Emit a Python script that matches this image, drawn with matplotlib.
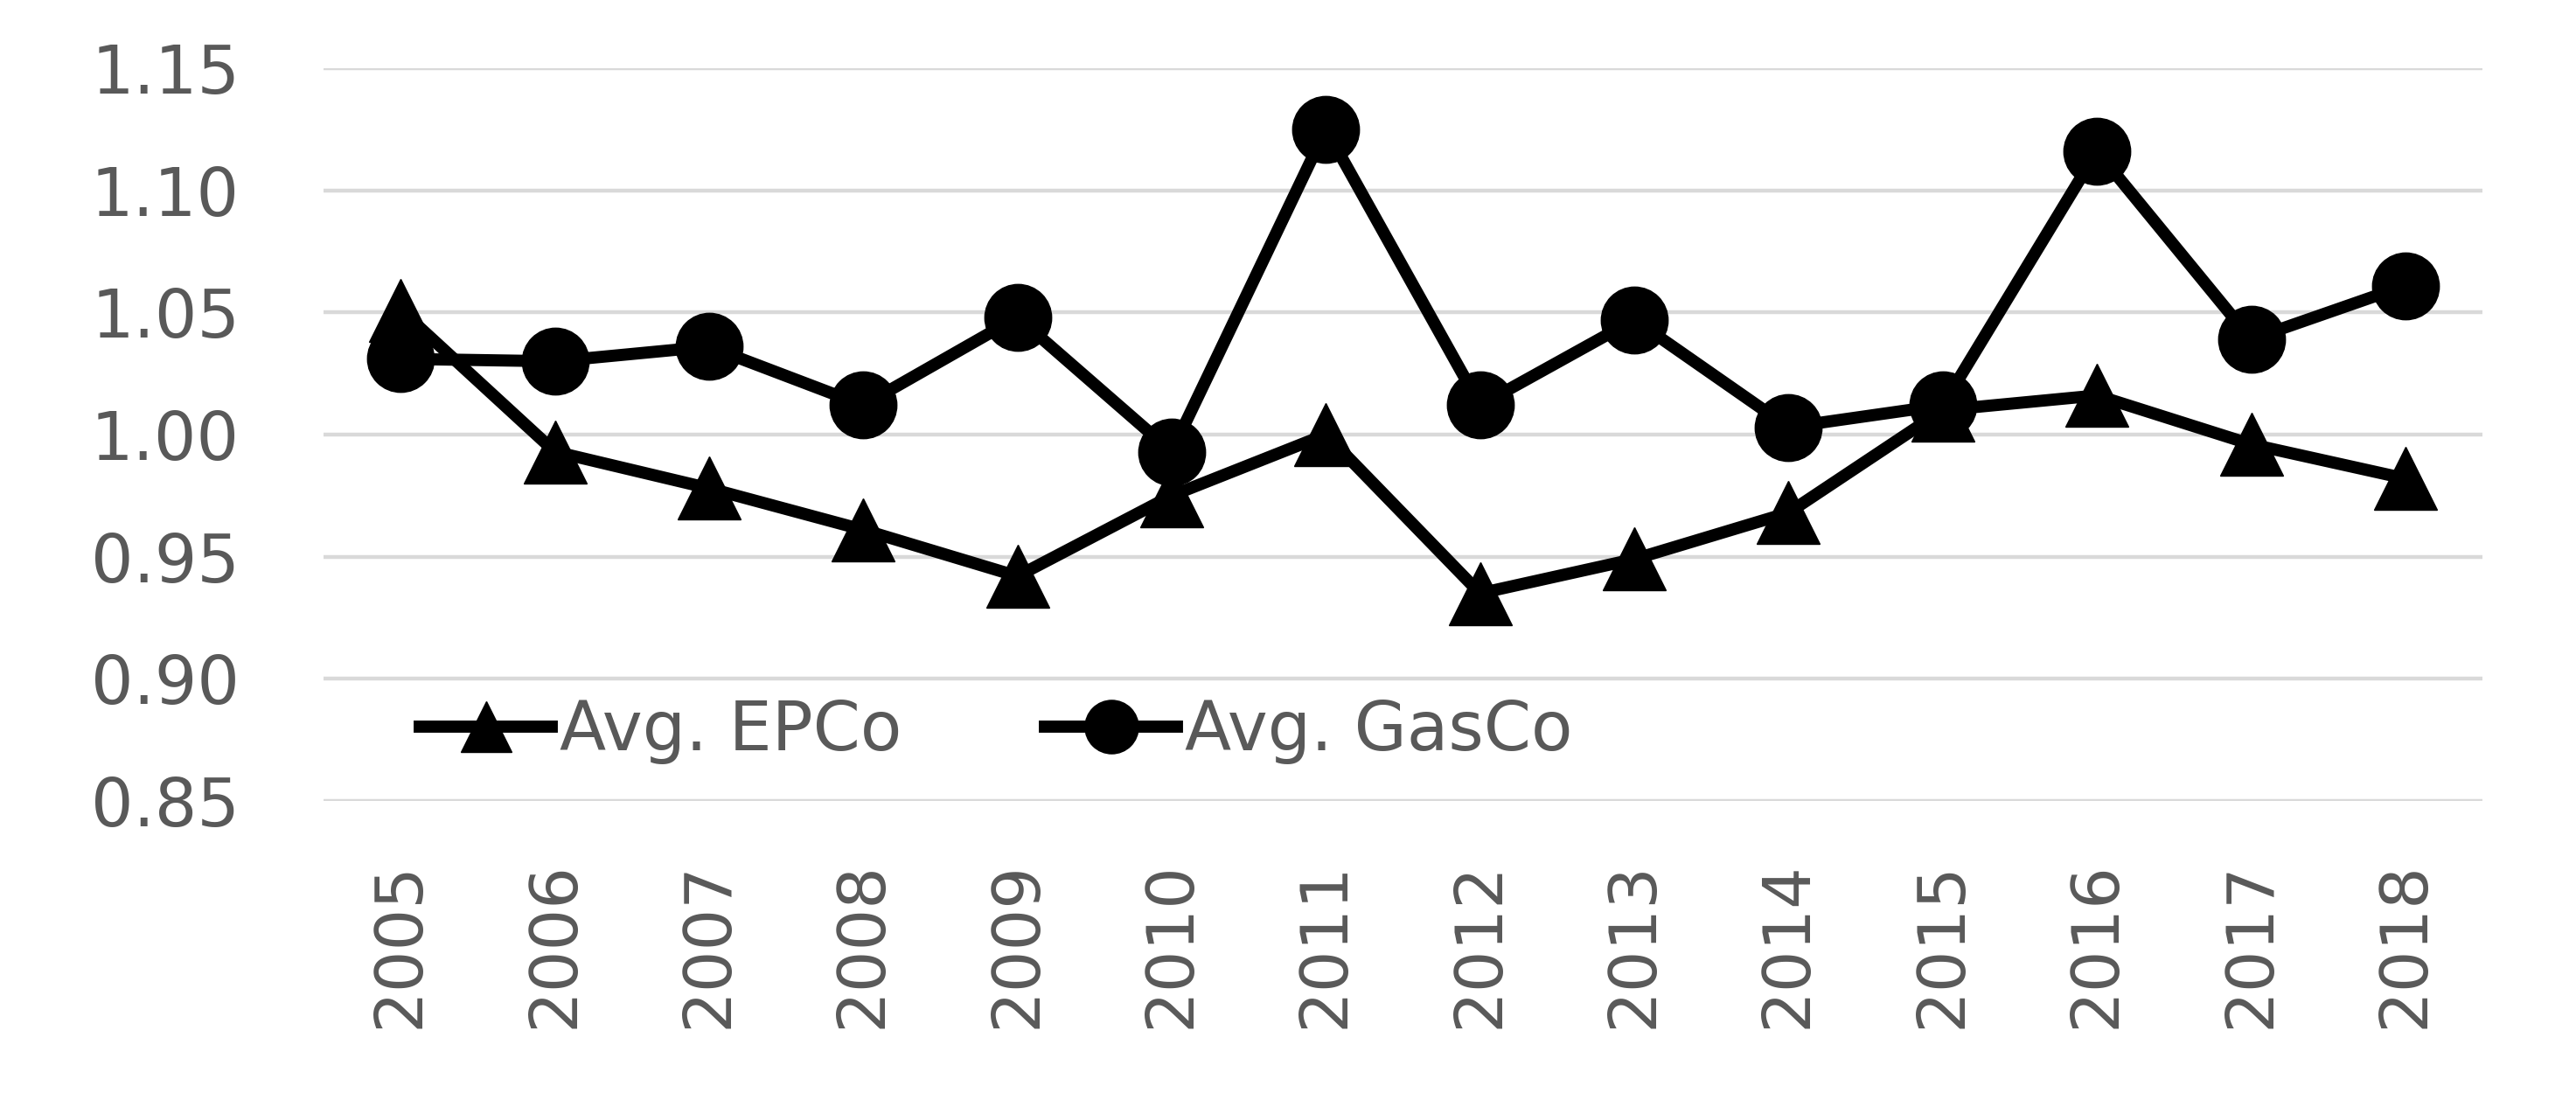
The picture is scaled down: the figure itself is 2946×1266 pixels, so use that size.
import numpy as np
from matplotlib import pyplot as plt

years = ['2005', '2006', '2007', '2008', '2009', '2010', '2011',
         '2012', '2013', '2014', '2015', '2016', '2017', '2018']
epco = [1.051, 0.993, 0.978, 0.961, 0.942, 0.975, 1.000,
        0.935, 0.949, 0.968, 1.010, 1.016, 0.996, 0.982]
gasco = [1.031, 1.030, 1.036, 1.012, 1.048, 0.993, 1.125,
         1.012, 1.047, 1.003, 1.012, 1.116, 1.039, 1.061]
yticks = [0.85, 0.90, 0.95, 1.00, 1.05, 1.10, 1.15]

textcol = '#595959'
x = np.arange(len(years))

fig = plt.figure(figsize=(29.46, 12.66), dpi=100)
ax = fig.add_axes([0.1256, 0.2765, 0.8381, 0.6619])

ax.plot(x, epco, color='black', lw=10, marker='^', ms=52,
        label='Avg. EPCo', clip_on=False, zorder=3)
ax.plot(x, gasco, color='black', lw=10, marker='o', ms=55,
        label='Avg. GasCo', clip_on=False, zorder=3)

ax.set_xlim(-0.5, len(years) - 0.5)
ax.set_ylim(0.85, 1.15)
ax.set_yticks(yticks)
ax.set_yticklabels(['%.2f' % v for v in yticks])
ax.set_xticks(x)
ax.set_xticklabels(years, rotation=90, va='top', ha='center')

ax.grid(axis='y', color='#d9d9d9', lw=3.2, zorder=0)
ax.set_axisbelow(True)
for s in ax.spines.values():
    s.set_visible(False)
ax.tick_params(axis='y', length=0, pad=69, labelsize=55, labelcolor=textcol)
ax.tick_params(axis='x', length=0, pad=50, labelsize=54, labelcolor=textcol)

leg = ax.legend(loc='center left', bbox_to_anchor=(0.0446, 0.0955), ncol=2,
                frameon=False, fontsize=56, handlelength=1.94,
                handletextpad=0.12, columnspacing=2.1, markerscale=0.8,
                borderpad=0, borderaxespad=0)
for t in leg.get_texts():
    t.set_color(textcol)

fig.savefig('out.png', dpi=100)
